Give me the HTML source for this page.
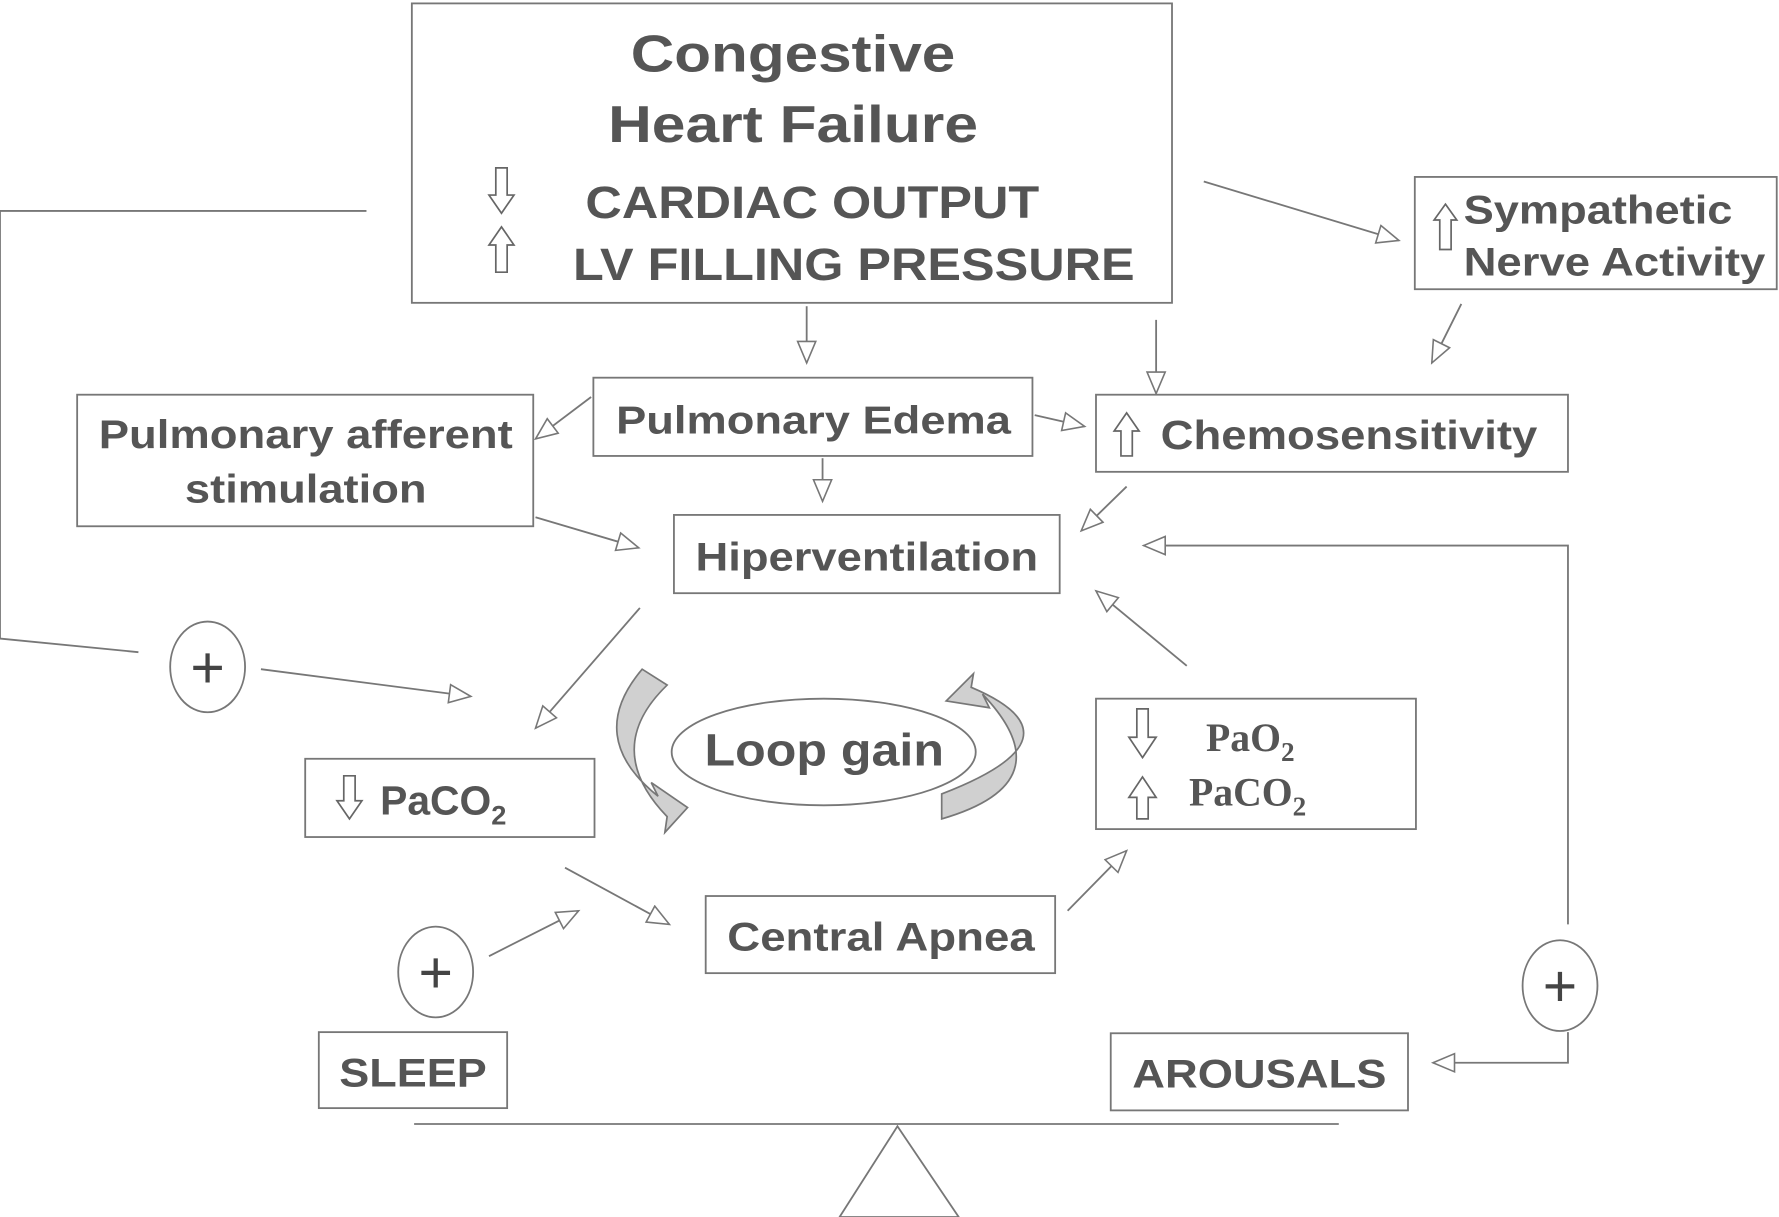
<!DOCTYPE html>
<html><head><meta charset="utf-8"><style>
html,body{margin:0;padding:0;background:#fff;}
svg{display:block;}
.t{font-family:"Liberation Sans",Arial,sans-serif;font-weight:bold;fill:#555;}
.s{font-family:"Liberation Serif",serif;font-weight:bold;fill:#555;}
rect,ellipse{fill:#fff;stroke:#777;stroke-width:1.6;}
.l{fill:none;stroke:#777;stroke-width:1.6;}
.h{fill:#fff;stroke:#666;stroke-width:1.5;}
</style></head><body>
<svg width="1779" height="1217" viewBox="0 0 1568 1073" preserveAspectRatio="none" xmlns="http://www.w3.org/2000/svg">
<defs>
<marker id="a" markerUnits="userSpaceOnUse" markerWidth="24" markerHeight="20" refX="20" refY="9" orient="auto">
<path d="M1,1 L20,9 L1,17 Z" fill="#fff" stroke="#777" stroke-width="1.4"/>
</marker>
</defs>
<rect x="363" y="3" width="670" height="264"/>
<text class="t" x="556" y="63" font-size="46" textLength="286" lengthAdjust="spacingAndGlyphs">Congestive</text>
<text class="t" x="536" y="125" font-size="46" textLength="326" lengthAdjust="spacingAndGlyphs">Heart Failure</text>
<polygon class="h" points="437,148 447,148 447,172 453,172 442,188 431,172 437,172"/>
<text class="t" x="516" y="192" font-size="40" textLength="400" lengthAdjust="spacingAndGlyphs">CARDIAC OUTPUT</text>
<polygon class="h" points="442,200 453,216 447,216 447,240 437,240 437,216 431,216"/>
<text class="t" x="505" y="247" font-size="40" textLength="495" lengthAdjust="spacingAndGlyphs">LV FILLING PRESSURE</text>

<rect x="1247" y="156" width="319" height="99"/>
<polygon class="h" points="1274,180 1284,194 1279,194 1279,220 1269,220 1269,194 1264,194"/>
<text class="t" x="1290" y="197" font-size="35" textLength="237" lengthAdjust="spacingAndGlyphs">Sympathetic</text>
<text class="t" x="1290" y="243" font-size="35" textLength="266" lengthAdjust="spacingAndGlyphs">Nerve Activity</text>

<rect x="523" y="333" width="387" height="69"/>
<text class="t" x="543" y="382" font-size="34" textLength="348" lengthAdjust="spacingAndGlyphs">Pulmonary Edema</text>

<rect x="68" y="348" width="402" height="116"/>
<text class="t" x="87" y="395" font-size="35" textLength="365" lengthAdjust="spacingAndGlyphs">Pulmonary afferent</text>
<text class="t" x="163" y="443" font-size="35" textLength="213" lengthAdjust="spacingAndGlyphs">stimulation</text>

<rect x="966" y="348" width="416" height="68"/>
<polygon class="h" points="993,364 1004,380 998,380 998,402 988,402 988,380 982,380"/>
<text class="t" x="1023" y="396" font-size="36" textLength="332" lengthAdjust="spacingAndGlyphs">Chemosensitivity</text>

<rect x="594" y="454" width="340" height="69"/>
<text class="t" x="613" y="503" font-size="35" textLength="302" lengthAdjust="spacingAndGlyphs">Hiperventilation</text>

<rect x="269" y="669" width="255" height="69"/>
<polygon class="h" points="303,684 313,684 313,706 319,706 308,722 297,706 303,706"/>
<text class="t" x="335" y="718" font-size="36">PaCO<tspan font-size="24" dy="9">2</tspan></text>

<rect x="966" y="616" width="282" height="115"/>
<polygon class="h" points="1002,625 1012,625 1012,650 1019,650 1007,668 995,650 1002,650"/>
<polygon class="h" points="1007,685 1019,703 1012,703 1012,722 1002,722 1002,703 995,703"/>
<text class="s" x="1063" y="662" font-size="35">PaO<tspan font-size="24" dy="9">2</tspan></text>
<text class="s" x="1048" y="710" font-size="35">PaCO<tspan font-size="24" dy="9">2</tspan></text>

<ellipse cx="726" cy="663" rx="134" ry="47"/>
<text class="t" x="621" y="675" font-size="40" textLength="211" lengthAdjust="spacingAndGlyphs">Loop gain</text>
<path d="M566,590 Q515,650 580,702 L574,690 L606,712 L586,734 L588,720 Q530,660 588,604 Z" fill="#d0d0d0" stroke="#777" stroke-width="1.5"/>
<path d="M830,722 Q940,690 866,612 L872,624 L834,618 L858,594 L856,606 Q960,650 830,700 Z" fill="#d0d0d0" stroke="#777" stroke-width="1.5"/>

<rect x="622" y="790" width="308" height="68"/>
<text class="t" x="641" y="838" font-size="35" textLength="271" lengthAdjust="spacingAndGlyphs">Central Apnea</text>

<rect x="281" y="910" width="166" height="67"/>
<text class="t" x="299" y="958" font-size="35" textLength="130" lengthAdjust="spacingAndGlyphs">SLEEP</text>

<rect x="979" y="911" width="262" height="68"/>
<text class="t" x="998" y="959" font-size="35" textLength="224" lengthAdjust="spacingAndGlyphs">AROUSALS</text>

<ellipse cx="183" cy="588" rx="33" ry="40"/>
<text x="183" y="606" font-size="52" text-anchor="middle" fill="#444" font-family="Liberation Sans,sans-serif">+</text>
<ellipse cx="384" cy="857" rx="33" ry="40"/>
<text x="384" y="875" font-size="52" text-anchor="middle" fill="#444" font-family="Liberation Sans,sans-serif">+</text>
<ellipse cx="1375" cy="869" rx="33" ry="40"/>
<text x="1375" y="887" font-size="52" text-anchor="middle" fill="#444" font-family="Liberation Sans,sans-serif">+</text>

<line class="l" x1="365" y1="991" x2="1180" y2="991"/>
<polygon points="740,1073 791,993 845,1073" fill="#fff" stroke="#777" stroke-width="1.6"/>

<polyline class="l" points="323,186 0,186 0,563 122,575"/>
<line class="l" x1="230" y1="590" x2="415" y2="614" marker-end="url(#a)"/>
<line class="l" x1="711" y1="270" x2="711" y2="320" marker-end="url(#a)"/>
<line class="l" x1="1019" y1="282" x2="1019" y2="347" marker-end="url(#a)"/>
<line class="l" x1="1061" y1="160" x2="1233" y2="212" marker-end="url(#a)"/>
<line class="l" x1="1288" y1="268" x2="1262" y2="320" marker-end="url(#a)"/>
<line class="l" x1="521" y1="350" x2="472" y2="387" marker-end="url(#a)"/>
<line class="l" x1="912" y1="366" x2="956" y2="376" marker-end="url(#a)"/>
<line class="l" x1="725" y1="404" x2="725" y2="442" marker-end="url(#a)"/>
<line class="l" x1="472" y1="456" x2="563" y2="483" marker-end="url(#a)"/>
<line class="l" x1="993" y1="429" x2="953" y2="468" marker-end="url(#a)"/>
<polyline class="l" points="1382,815 1382,481 1008,481" marker-end="url(#a)"/>
<polyline class="l" points="1382,910 1382,937 1263,937" marker-end="url(#a)"/>
<line class="l" x1="1046" y1="587" x2="966" y2="521" marker-end="url(#a)"/>
<line class="l" x1="564" y1="536" x2="472" y2="642" marker-end="url(#a)"/>
<line class="l" x1="498" y1="765" x2="590" y2="815" marker-end="url(#a)"/>
<line class="l" x1="431" y1="843" x2="510" y2="803" marker-end="url(#a)"/>
<line class="l" x1="941" y1="803" x2="993" y2="750" marker-end="url(#a)"/>
</svg>
</body></html>
